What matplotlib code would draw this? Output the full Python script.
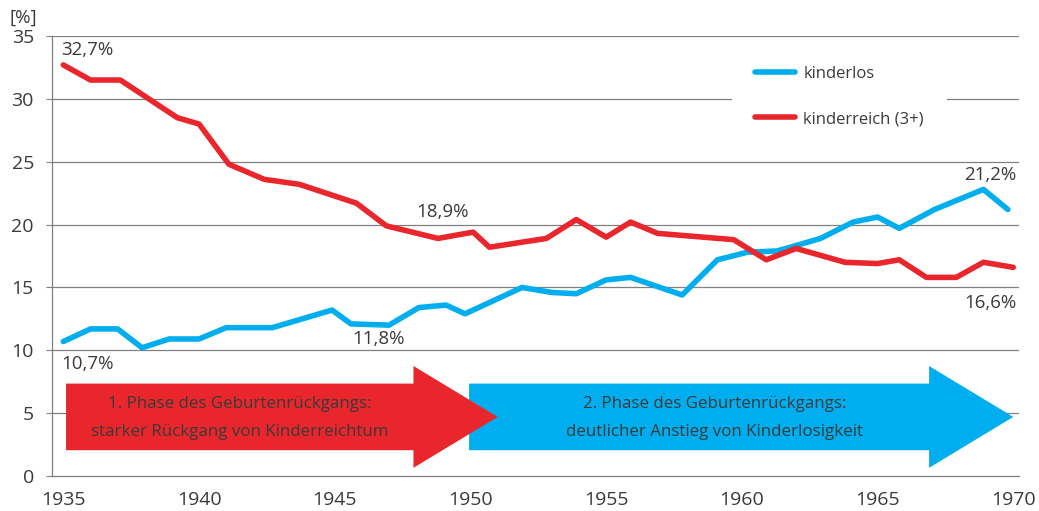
import matplotlib
matplotlib.use("Agg")
import matplotlib.pyplot as plt
from matplotlib.patches import FancyArrow

# Werte (Geburtsjahrgang, Anteil in %)
jahre_kinderlos = [1935, 1936, 1937, 1937.9, 1938.9, 1940, 1941, 1942.7, 1944.9, 1945.6,
                   1947, 1948.1, 1949.1, 1949.8, 1951.9, 1953, 1953.9, 1955, 1955.9,
                   1957.8, 1959.1, 1960.2, 1961.3, 1962.9, 1964.1, 1965, 1965.8,
                   1967.1, 1968.9, 1969.8]
kinderlos = [10.7, 11.7, 11.7, 10.2, 10.9, 10.9, 11.8, 11.8, 13.2, 12.1,
             12.0, 13.4, 13.6, 12.9, 15.0, 14.6, 14.5, 15.6, 15.8,
             14.4, 17.2, 17.8, 17.9, 18.9, 20.2, 20.6, 19.7,
             21.2, 22.8, 21.2]

jahre_kinderreich = [1935, 1936, 1937.1, 1939.2, 1940, 1941.1, 1942.4, 1943.7, 1945.8,
                     1946.9, 1948.8, 1950.1, 1950.7, 1952.8, 1953.9, 1955, 1955.9,
                     1956.9, 1959.7, 1960.9, 1962, 1963.8, 1965, 1965.8, 1966.8,
                     1967.9, 1968.9, 1970]
kinderreich = [32.7, 31.5, 31.5, 28.5, 28.0, 24.8, 23.6, 23.2, 21.7,
               19.9, 18.9, 19.4, 18.2, 18.9, 20.4, 19.0, 20.2,
               19.3, 18.8, 17.2, 18.1, 17.0, 16.9, 17.2, 15.8,
               15.8, 17.0, 16.6]

# Wertebeschriftungen: Text, x, y, Ausrichtung
labels = [("32,7%", 1934.93, 33.85, 'left'),
          ("10,7%", 1934.93, 8.9, 'left'),
          ("11,8%", 1945.63, 10.93, 'left'),
          ("18,9%", 1948.0, 21.0, 'left'),
          ("21,2%", 1970.12, 23.93, 'right'),
          ("16,6%", 1970.12, 13.8, 'right')]

# Phasen (von, bis, Textposition)
phase1 = (1935.1, 1951.0, 1941.5)
phase2 = (1949.95, 1970.0, 1959.0)
phase1_text = "1. Phase des Geburtenrückgangs:\nstarker Rückgang von Kinderreichtum"
phase2_text = "2. Phase des Geburtenrückgangs:\ndeutlicher Anstieg von Kinderlosigkeit"

ROT = "#e8262b"
BLAU = "#00aeef"
GRAU = "#808080"
TEXT = "#3a3a3a"

plt.rcParams['font.family'] = ['Open Sans', 'DejaVu Sans']

fig = plt.figure(figsize=(10.39, 5.11), dpi=100)
ax = fig.add_axes([0.050, 0.0685, 0.9307, 0.861])

ax.set_xlim(1934.58, 1970.21)
ax.set_ylim(0, 35)

# Gitternetz
for v in range(5, 36, 5):
    ax.axhline(v, color=GRAU, lw=0.9, zorder=1)

for s in ['top', 'right']:
    ax.spines[s].set_visible(False)
ax.spines['left'].set_color(GRAU)
ax.spines['bottom'].set_color(GRAU)
ax.spines['left'].set_linewidth(0.9)
ax.spines['bottom'].set_linewidth(0.9)

ax.set_yticks(range(0, 36, 5))
ax.set_xticks(range(1935, 1971, 5))
ax.tick_params(axis='y', length=4, color=GRAU, pad=9, labelsize=14, labelcolor=TEXT)
ax.tick_params(axis='x', length=0, pad=11, labelsize=14, labelcolor=TEXT)

# Pfeile fuer die Phasen
mitte, breite, kopf_breite, kopf_laenge = 4.7, 5.3, 8.1, 3.1
for (x0, x1, xt), farbe, txt, z in [(phase2, BLAU, phase2_text, 2), (phase1, ROT, phase1_text, 3)]:
    pfeil = FancyArrow(x0, mitte, x1 - x0, 0, width=breite, head_width=kopf_breite,
                       head_length=kopf_laenge, length_includes_head=True,
                       color=farbe, lw=0, zorder=z)
    ax.add_patch(pfeil)
    ax.text(xt, mitte - 0.1, txt, ha='center', va='center',
            fontsize=12.2, color=TEXT, linespacing=1.95, zorder=4)

ax.plot(jahre_kinderlos, kinderlos, color=BLAU, lw=4, solid_capstyle='round',
        solid_joinstyle='round', label='kinderlos', zorder=5)
ax.plot(jahre_kinderreich, kinderreich, color=ROT, lw=4, solid_capstyle='round',
        solid_joinstyle='round', label='kinderreich (3+)', zorder=5)

for txt, x, y, ha in labels:
    ax.text(x, y, txt, ha=ha, va='center', fontsize=13.5, color=TEXT)

fig.text(23 / 1039, 1 - 18 / 511, "[%]", ha='center', va='center', fontsize=13.5, color=TEXT)

leg = ax.legend(loc='upper left', bbox_to_anchor=(0.703, 0.985), borderaxespad=0,
                frameon=True, facecolor='white', edgecolor='none', framealpha=1,
                fontsize=12, handlelength=2.4, handletextpad=0.5, borderpad=1.4,
                labelspacing=1.75, fancybox=False)
for t in leg.get_texts():
    t.set_color(TEXT)
leg.set_zorder(6)

fig.savefig("out.png", dpi=100)
